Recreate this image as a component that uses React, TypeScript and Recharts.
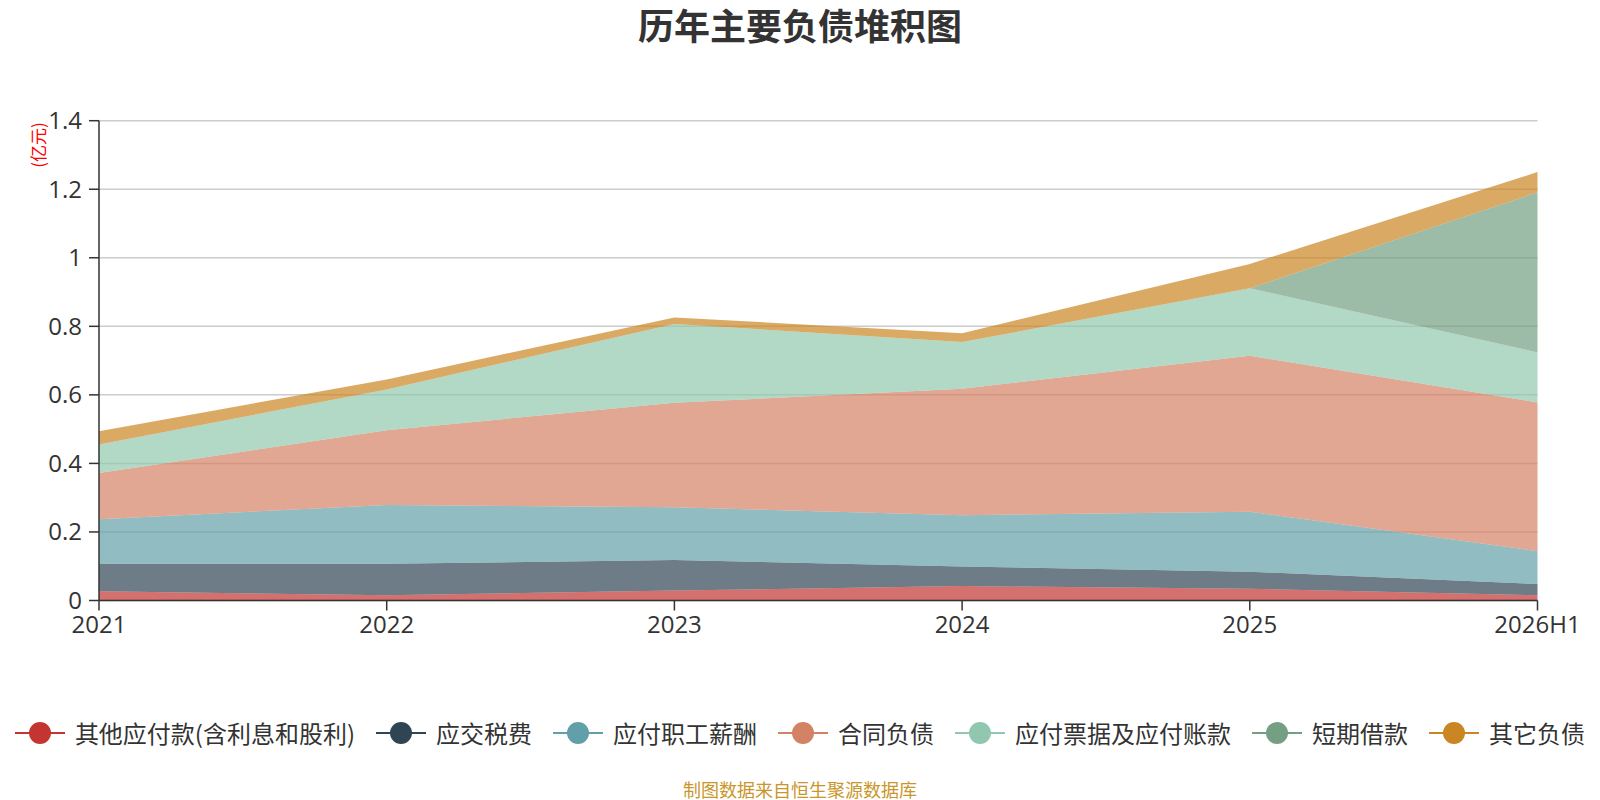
import { Area, AreaChart, CartesianGrid, XAxis, YAxis } from "recharts";

const years = ["2021", "2022", "2023", "2024", "2025", "2026H1"];
const otherPayables = [0.027, 0.015, 0.029, 0.042, 0.034, 0.015];
const taxesPayable = [0.08, 0.092, 0.089, 0.057, 0.05, 0.033];
const payroll = [0.13, 0.172, 0.154, 0.15, 0.175, 0.096];
const contractLiab = [0.135, 0.218, 0.305, 0.369, 0.455, 0.434];
const notesAccounts = [0.083, 0.119, 0.23, 0.136, 0.197, 0.146];
const shortLoans = [0, 0, 0, 0, 0, 0.467];
const otherLiab = [0.039, 0.029, 0.019, 0.026, 0.071, 0.059];

const seriesNames = [
    "其他应付款(含利息和股利)",
    "应交税费",
    "应付职工薪酬",
    "合同负债",
    "应付票据及应付账款",
    "短期借款",
    "其它负债",
];
const seriesValues = [otherPayables, taxesPayable, payroll, contractLiab, notesAccounts, shortLoans, otherLiab];
const colors = ["#c23531", "#2f4554", "#61a0a8", "#d48265", "#91c7ae", "#749f83", "#ca8622"];
const yTicks = [0, 0.2, 0.4, 0.6, 0.8, 1, 1.2, 1.4];

const data = years.map((year, i) => {
    const row: Record<string, string | number> = { year };
    seriesValues.forEach((vals, s) => {
        row["s" + s] = vals[i];
    });
    return row;
});

const font = '"Noto Sans CJK SC", "Noto Sans", sans-serif';
const numFont = '"Open Sans", "Noto Sans", sans-serif';

const App = () => {
    return (
        <div style={{ position: "relative", width: 1600, height: 800, fontFamily: font, background: "#fff" }}>
            <style>{"body{margin:0}"}</style>
            <div style={{ position: "absolute", top: 0, left: 0, width: 1600, textAlign: "center", fontSize: 36, fontWeight: "bold", lineHeight: "48px", color: "#333" }}>
                历年主要负债堆积图
            </div>
            <div style={{ position: "absolute", left: 37, top: 145, transform: "translate(-50%, -50%) rotate(-90deg)", color: "#ff0000", fontSize: 17, whiteSpace: "nowrap" }}>
                (亿元)
            </div>
            <AreaChart width={1600} height={800} data={data} margin={{ top: 120.7, right: 62.5, bottom: 159.5, left: 39 }}>
                <CartesianGrid vertical={false} stroke="#ccc" strokeWidth={1.5} />
                <XAxis
                    dataKey="year"
                    height={40}
                    tickSize={10}
                    tickMargin={5}
                    stroke="#333"
                    strokeWidth={1.5}
                    tick={{ fill: "#333", fontSize: 24, fontFamily: numFont }}
                    interval={0}
                />
                <YAxis
                    width={60}
                    domain={[0, 1.4]}
                    ticks={yTicks}
                    tickSize={10}
                    tickMargin={7}
                    stroke="#333"
                    strokeWidth={1.5}
                    tick={{ fill: "#333", fontSize: 24, fontFamily: numFont }}
                    tickFormatter={(v: number) => String(Number(v.toFixed(1)))}
                    allowDataOverflow
                />
                {seriesNames.map((name, s) => (
                    <Area
                        key={name}
                        name={name}
                        dataKey={"s" + s}
                        stackId="a"
                        type="linear"
                        stroke="none"
                        fill={colors[s]}
                        fillOpacity={0.7}
                        isAnimationActive={false}
                        dot={false}
                        activeDot={false}
                    />
                ))}
            </AreaChart>
            <div style={{ position: "absolute", top: 718, left: 0, width: 1600, display: "flex", justifyContent: "center", alignItems: "center", fontSize: 24, color: "#333", lineHeight: "30px" }}>
                {seriesNames.map((name, s) => (
                    <div key={name} style={{ display: "flex", alignItems: "center", marginRight: s < seriesNames.length - 1 ? 21 : 0 }}>
                        <svg width={50} height={26} style={{ marginRight: 10 }}>
                            <line x1={0} y1={13} x2={50} y2={13} stroke={colors[s]} strokeWidth={2} />
                            <circle cx={25} cy={13} r={11} fill={colors[s]} />
                        </svg>
                        <span>{name}</span>
                    </div>
                ))}
            </div>
            <div style={{ position: "absolute", top: 778, left: 0, width: 1600, textAlign: "center", fontSize: 18, color: "#c9962b", lineHeight: "22px" }}>
                制图数据来自恒生聚源数据库
            </div>
        </div>
    );
};

export default App;
